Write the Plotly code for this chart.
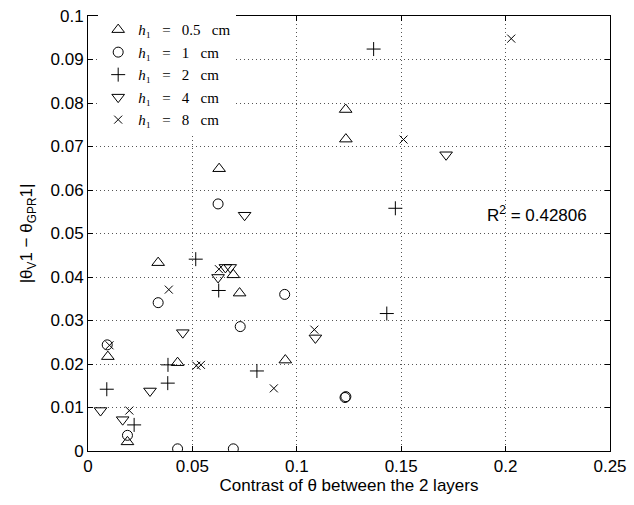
import plotly.graph_objects as go

# ---- data ----
SP3 = "&nbsp;&nbsp;&nbsp;"
labels = [f"<i>h</i>₁{SP3}={SP3}0.5{SP3}cm", f"<i>h</i>₁{SP3}={SP3}1{SP3}cm",
          f"<i>h</i>₁{SP3}={SP3}2{SP3}cm", f"<i>h</i>₁{SP3}={SP3}4{SP3}cm",
          f"<i>h</i>₁{SP3}={SP3}8{SP3}cm"]

h05_x = [0.0628, 0.0336, 0.0696, 0.0726, 0.0095, 0.0189, 0.0429, 0.0945, 0.1234, 0.1235]
h05_y = [0.0649, 0.0433, 0.0405, 0.0363, 0.0217, 0.0021, 0.0203, 0.0209, 0.0785, 0.0717]

h1_x = [0.0623, 0.0336, 0.0942, 0.0092, 0.0729, 0.0189, 0.0429, 0.0696, 0.1231, 0.1235]
h1_y = [0.0568, 0.0341, 0.0360, 0.0244, 0.0286, 0.0036, 0.0005, 0.0005, 0.0123, 0.0125]

h2_x = [0.1368, 0.1472, 0.1431, 0.0516, 0.0626, 0.0090, 0.0383, 0.0382, 0.0221, 0.0809]
h2_y = [0.0924, 0.0558, 0.0316, 0.0441, 0.0369, 0.0142, 0.0198, 0.0156, 0.0060, 0.0184]

h4_x = [0.1715, 0.0750, 0.0658, 0.0681, 0.0623, 0.0454, 0.0297, 0.0060, 0.0166, 0.1089]
h4_y = [0.0681, 0.0542, 0.0422, 0.0422, 0.0399, 0.0272, 0.0138, 0.0093, 0.0072, 0.0260]

h8_x = [0.2027, 0.1511, 0.0387, 0.0103, 0.0198, 0.0519, 0.0541, 0.0890, 0.1084, 0.0627]
h8_y = [0.0948, 0.0716, 0.0371, 0.0243, 0.0093, 0.0196, 0.0198, 0.0144, 0.0279, 0.0418]

x_ticks = [0, 0.05, 0.1, 0.15, 0.2, 0.25]
x_ticktext = ["0", "0.05", "0.1", "0.15", "0.2", "0.25"]
y_ticks = [0, 0.01, 0.02, 0.03, 0.04, 0.05, 0.06, 0.07, 0.08, 0.09, 0.1]
y_ticktext = ["0", "0.01", "0.02", "0.03", "0.04", "0.05", "0.06", "0.07", "0.08", "0.09", "0.1"]
r2_text = "R<sup>2</sup> = 0.42806"

# ---- figure ----
series = [
    (h05_x, h05_y, "triangle-up-open", 11),
    (h1_x, h1_y, "circle-open", 10),
    (h2_x, h2_y, "cross-thin-open", 10),
    (h4_x, h4_y, "triangle-down-open", 11),
    (h8_x, h8_y, "x-thin-open", 8),
]

fig = go.Figure()
for (xs, ys, sym, sz), name in zip(series, labels):
    fig.add_trace(go.Scatter(
        x=xs, y=ys, mode="markers", name=name,
        marker=dict(symbol=sym, size=sz, color="black",
                    line=dict(color="black", width=1)),
    ))

FONT = "Liberation Sans, Arial"
axis_common = dict(
    showline=True, linecolor="black", linewidth=1, mirror="allticks",
    ticks="inside", ticklen=5, tickcolor="black",
    showgrid=True, gridcolor="#555555", griddash="1px,3px", gridwidth=1,
    zeroline=False, ticklabeloverflow="allow",
    tickfont=dict(family=FONT, size=17, color="black"),
)

fig.update_xaxes(range=[0, 0.25], tickvals=x_ticks, ticktext=x_ticktext,
                 title=dict(text="Contrast of θ between the 2 layers",
                            font=dict(family=FONT, size=17, color="black"),
                            standoff=1),
                 **axis_common)
fig.update_yaxes(range=[0, 0.1], tickvals=y_ticks, ticktext=y_ticktext,
                 title=dict(text="|θ<sub>V</sub>1 − θ<sub>GPR</sub>1|",
                            font=dict(family=FONT, size=17, color="black"),
                            standoff=13),
                 **axis_common)

fig.add_annotation(x=0.19, y=0.0544, xref="x", yref="y", text=r2_text,
                   showarrow=False, xanchor="left", yanchor="middle",
                   font=dict(family=FONT, size=17, color="black"))

fig.update_layout(
    width=634, height=505,
    margin=dict(l=88, r=17, t=7, b=54),
    paper_bgcolor="white", plot_bgcolor="white",
    legend=dict(x=0.0195, y=1.006, xanchor="left", yanchor="top",
                bgcolor="white", borderwidth=0,
                font=dict(family="Liberation Serif, DejaVu Serif", size=15, color="black"),
                tracegroupgap=0, itemwidth=30),
    showlegend=True,
)

fig.write_html("out.html")
